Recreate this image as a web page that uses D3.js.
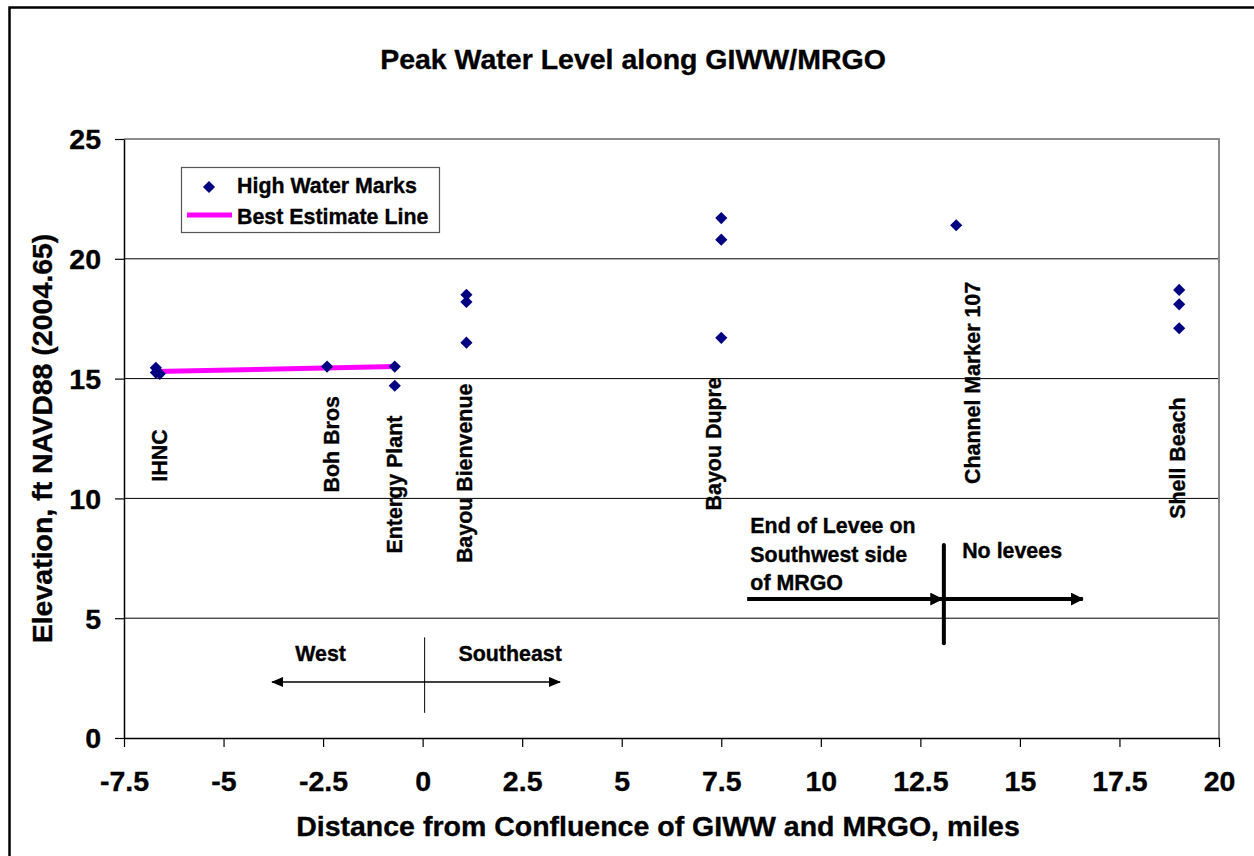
<!DOCTYPE html>
<html lang="en">
<head>
    <meta charset="UTF-8">
    <title>Peak Water Level along GIWW/MRGO</title>
    <script src="https://d3js.org/d3.v7.min.js"></script>
    <style>
        body { margin: 0; background: #fff; }
        svg text { font-family: 'Liberation Sans', Arial, sans-serif; font-weight: bold; fill: #000; stroke: #000; stroke-width: 0.35px; }
    </style>
</head>
<body>
<div id="chart"></div>
<script>
    // high water marks (miles from confluence, ft NAVD88)
    const hwmX = [-6.7, -6.7, -6.6, -2.4, -0.7, -0.7, 1.1, 1.1, 1.1, 7.5, 7.5, 7.5, 13.4, 19, 19, 19];
    const hwmY = [15.45, 15.25, 15.2, 15.5, 15.5, 14.7, 18.5, 18.2, 16.5, 21.7, 20.8, 16.7, 21.4, 18.7, 18.1, 17.1];

    // best estimate line
    const bestX = [-6.7, -0.7];
    const bestY = [15.3, 15.5];

    // location labels (x = mile, y = where the vertical text starts)
    const siteNames = ["IHNC", "Boh Bros", "Entergy Plant", "Bayou Bienvenue", "Bayou Dupre", "Channel Marker 107", "Shell Beach"];
    const siteX = [-6.6, -2.3, -0.7, 1.05, 7.3, 13.8, 18.97];
    const siteY = [10.7, 10.25, 7.7, 7.3, 9.5, 10.6, 9.15];

    const xTicks = [-7.5, -5, -2.5, 0, 2.5, 5, 7.5, 10, 12.5, 15, 17.5, 20];
    const yTicks = [0, 5, 10, 15, 20, 25];

    const width = 1254, height = 856;
    const big = 28.5, small = 21.4;

    const svg = d3.select("#chart").append("svg")
        .attr("width", width)
        .attr("height", height);

    svg.append("rect").attr("width", width).attr("height", height).attr("fill", "#fff");

    // outer chart border (runs off the right/bottom edge)
    svg.append("rect")
        .attr("x", 9.5).attr("y", 7.5)
        .attr("width", 1270).attr("height", 870)
        .attr("fill", "none").attr("stroke", "#000").attr("stroke-width", 2.5);

    const x = d3.scaleLinear().domain([-7.5, 20]).range([124, 1219]);
    const y = d3.scaleLinear().domain([0, 25]).range([738, 139]);

    const defs = svg.append("defs");
    defs.append("marker")
        .attr("id", "thinHead")
        .attr("markerUnits", "userSpaceOnUse")
        .attr("viewBox", "0 0 12 10")
        .attr("refX", 11).attr("refY", 5)
        .attr("markerWidth", 12).attr("markerHeight", 10)
        .attr("orient", "auto-start-reverse")
        .append("path").attr("d", "M0,0L12,5L0,10Z").attr("fill", "#000");
    defs.append("marker")
        .attr("id", "thickHead")
        .attr("markerUnits", "userSpaceOnUse")
        .attr("viewBox", "0 0 13 13")
        .attr("refX", 12).attr("refY", 6.5)
        .attr("markerWidth", 13).attr("markerHeight", 13)
        .attr("orient", "auto")
        .append("path").attr("d", "M0,0L13,6.5L0,13Z").attr("fill", "#000");

    // gridlines
    svg.append("g")
        .selectAll("line")
        .data(yTicks.filter(d => d > 0 && d < 25))
        .join("line")
        .attr("x1", x(-7.5)).attr("x2", x(20))
        .attr("y1", d => y(d)).attr("y2", d => y(d))
        .attr("stroke", "#000").attr("stroke-width", 1);

    // plot area border top / right (gray)
    svg.append("path")
        .attr("d", `M${x(-7.5)},${y(25)}H${x(20)}V${y(0)}`)
        .attr("fill", "none").attr("stroke", "#8c8c8c").attr("stroke-width", 2);

    // axes
    const xAxis = svg.append("g")
        .attr("transform", `translate(0,${y(0)})`)
        .call(d3.axisBottom(x).tickValues(xTicks).tickSize(9).tickSizeOuter(0).tickFormat(d => String(d)));
    xAxis.select(".domain").attr("stroke-width", 1.5);
    xAxis.selectAll(".tick line").attr("stroke-width", 1.2);
    xAxis.selectAll(".tick text")
        .attr("font-size", big).attr("y", 0).attr("dy", 53)
        .style("font-family", "'Liberation Sans', Arial, sans-serif");

    const yAxis = svg.append("g")
        .attr("transform", `translate(${x(-7.5)},0)`)
        .call(d3.axisLeft(y).tickValues(yTicks).tickSize(9).tickSizeOuter(0).tickFormat(d => String(d)));
    yAxis.select(".domain").attr("stroke-width", 1.5);
    yAxis.selectAll(".tick line").attr("stroke-width", 1.2);
    yAxis.selectAll(".tick text")
        .attr("font-size", big).attr("x", -23).attr("dy", "0.35em")
        .style("font-family", "'Liberation Sans', Arial, sans-serif");

    // best estimate line
    svg.append("path")
        .datum(bestX.map((d, i) => [d, bestY[i]]))
        .attr("d", d3.line().x(d => x(d[0])).y(d => y(d[1])))
        .attr("fill", "none").attr("stroke", "#ff00ff").attr("stroke-width", 5);

    // high water marks
    const diamond = d3.symbol().type(d3.symbolSquare).size(74);
    svg.append("g")
        .selectAll("path")
        .data(hwmX.map((d, i) => [d, hwmY[i]]))
        .join("path")
        .attr("d", diamond)
        .attr("transform", d => `translate(${x(d[0])},${y(d[1])}) rotate(45)`)
        .attr("fill", "#000080");

    // site labels
    svg.append("g")
        .selectAll("text")
        .data(siteNames)
        .join("text")
        .attr("transform", (d, i) => `translate(${x(siteX[i])},${y(siteY[i])}) rotate(-90)`)
        .attr("dy", "0.35em")
        .attr("font-size", small)
        .text(d => d);

    // West / Southeast annotation
    svg.append("line")
        .attr("x1", x(0.05)).attr("x2", x(0.05))
        .attr("y1", y(4.2)).attr("y2", y(1.05))
        .attr("stroke", "#000").attr("stroke-width", 1);
    svg.append("line")
        .attr("x1", x(-3.78)).attr("x2", x(3.45))
        .attr("y1", y(2.34)).attr("y2", y(2.34))
        .attr("stroke", "#000").attr("stroke-width", 1.6)
        .attr("marker-start", "url(#thinHead)")
        .attr("marker-end", "url(#thinHead)");
    svg.append("text").attr("x", x(-3.2)).attr("y", y(3.22)).attr("font-size", small).text("West");
    svg.append("text").attr("x", x(0.9)).attr("y", y(3.22)).attr("font-size", small).text("Southeast");

    // levee annotation
    svg.append("line")
        .attr("x1", x(13.09)).attr("x2", x(13.09))
        .attr("y1", y(8.05)).attr("y2", y(3.95))
        .attr("stroke", "#000").attr("stroke-width", 4).attr("stroke-linecap", "round");
    svg.append("line")
        .attr("x1", x(8.15)).attr("x2", x(13.05))
        .attr("y1", y(5.8)).attr("y2", y(5.8))
        .attr("stroke", "#000").attr("stroke-width", 4)
        .attr("marker-end", "url(#thickHead)");
    svg.append("line")
        .attr("x1", x(13.09)).attr("x2", x(16.58))
        .attr("y1", y(5.8)).attr("y2", y(5.8))
        .attr("stroke", "#000").attr("stroke-width", 4)
        .attr("marker-end", "url(#thickHead)");
    const leveeText = svg.append("text").attr("font-size", small);
    ["End of Levee on", "Southwest side", "of MRGO"].forEach((t, i) => {
        leveeText.append("tspan").attr("x", x(8.23)).attr("y", y(8.54) + i * 28.3).text(t);
    });
    svg.append("text").attr("x", x(13.55)).attr("y", y(7.5)).attr("font-size", small).text("No levees");

    // legend
    const lg = svg.append("g");
    lg.append("rect")
        .attr("x", 181.5).attr("y", 167.5).attr("width", 258).attr("height", 65)
        .attr("fill", "#fff").attr("stroke", "#555").attr("stroke-width", 1.2);
    lg.append("path")
        .attr("d", diamond)
        .attr("transform", "translate(209,187) rotate(45)")
        .attr("fill", "#000080");
    lg.append("line")
        .attr("x1", 187).attr("x2", 232).attr("y1", 215).attr("y2", 215)
        .attr("stroke", "#ff00ff").attr("stroke-width", 5);
    lg.append("text").attr("x", 237).attr("y", 193).attr("font-size", small).text("High Water Marks");
    lg.append("text").attr("x", 237).attr("y", 224).attr("font-size", small).text("Best Estimate Line");

    // titles
    svg.append("text")
        .attr("x", 633).attr("y", 69)
        .attr("text-anchor", "middle")
        .attr("font-size", big)
        .text("Peak Water Level along GIWW/MRGO");

    svg.append("text")
        .attr("x", 658).attr("y", 836)
        .attr("text-anchor", "middle")
        .attr("font-size", big)
        .text("Distance from Confluence of GIWW and MRGO, miles");

    svg.append("text")
        .attr("transform", `translate(52,${(y(0) + y(25)) / 2}) rotate(-90)`)
        .attr("text-anchor", "middle")
        .attr("font-size", big)
        .text("Elevation, ft NAVD88 (2004.65)");
</script>
</body>
</html>
